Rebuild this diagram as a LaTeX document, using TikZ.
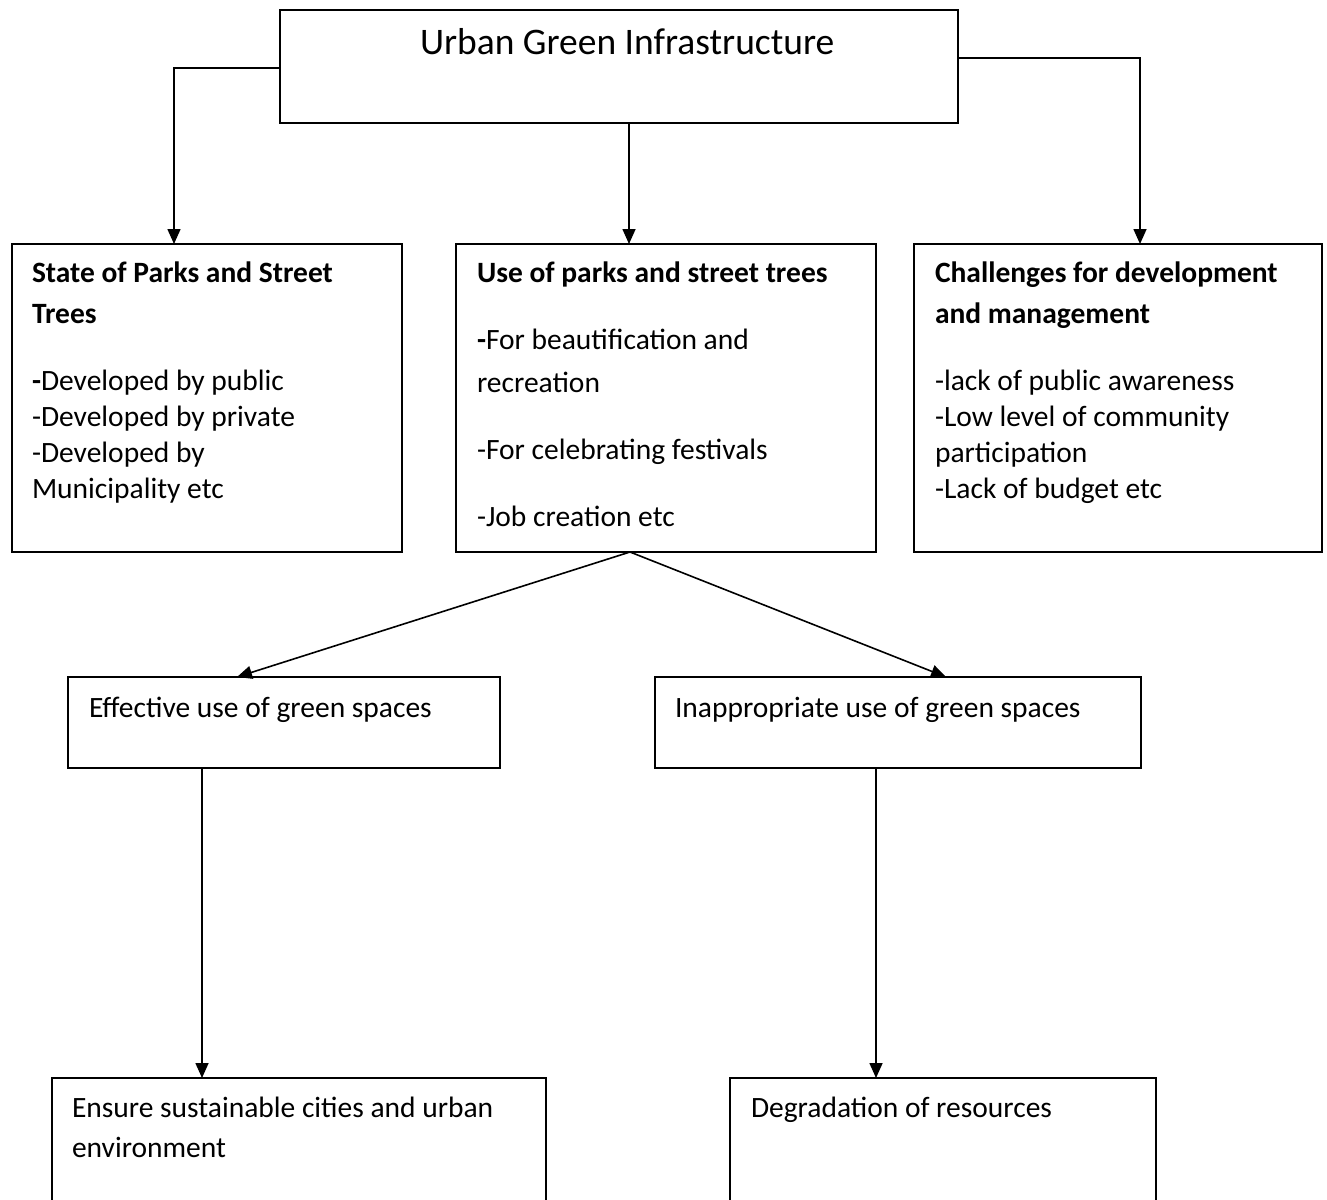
\documentclass[tikz,border=0pt]{standalone}
\usepackage{fontspec}
\setmainfont{Carlito}
\usetikzlibrary{arrows.meta,positioning,calc}
\newcommand{\lines}[1]{\begin{tabular}[t]{@{}l@{}}#1\end{tabular}}
\tikzset{
  box/.style={draw=black, line width=2pt, rectangle, inner sep=0pt, outer sep=0pt, anchor=north west},
  txt/.style={anchor=base west, inner sep=0pt, outer sep=0pt, font=\fontsize{29.5}{36}\selectfont},
  conn/.style={draw=black, line width=1.6pt, -{Triangle[width=13pt,length=15pt]}},
}
\begin{document}
\begin{tikzpicture}[x=1pt,y=-1pt]
\clip (0,0) rectangle (1327,1199);
\fill[white] (0,0) rectangle (1327,1199);
% boxes
\node[box, minimum width=678pt, minimum height=113pt] (top) at (280,10) {};
\node[box, minimum width=390pt, minimum height=308pt] (b1) at (12,244) {};
\node[box, minimum width=420pt, minimum height=308pt] (b2) at (456,244) {};
\node[box, minimum width=408pt, minimum height=308pt] (b3) at (914,244) {};
\node[box, minimum width=432pt, minimum height=91pt] (b4) at (68,677) {};
\node[box, minimum width=486pt, minimum height=91pt] (b5) at (655,677) {};
\node[box, minimum width=494pt, minimum height=160pt] (b6) at (52,1078) {};
\node[box, minimum width=426pt, minimum height=160pt] (b7) at (730,1078) {};
% texts
\node[txt, font=\fontsize{37.5}{44}\selectfont] (ttop) at (420,55) {Urban Green Infrastructure};
\node[txt] (t1) at (32,282) {\lines{\textbf{State of Parks and Street}\\[5pt]\textbf{Trees}\\[31pt]\textbf{-}Developed by public\\-Developed by private\\-Developed by\\Municipality etc}};
\node[txt] (t2) at (477,282) {\lines{\textbf{Use of parks and street trees}\\[31pt]\textbf{-}For beautification and\\[7pt]recreation\\[31pt]-For celebrating festivals\\[31pt]-Job creation etc}};
\node[txt] (t3) at (935,282) {\lines{\textbf{Challenges for development}\\[5pt]\textbf{and management}\\[31pt]-lack of public awareness\\-Low level of community\\participation\\-Lack of budget etc}};
\node[txt] (t4) at (89,717) {Effective use of green spaces};
\node[txt] (t5) at (675,717) {Inappropriate use of green spaces};
\node[txt] (t6) at (72,1117) {\lines{Ensure sustainable cities and urban\\[4pt]environment}};
\node[txt] (t7) at (751,1117) {Degradation of resources};
% connectors
\coordinate (lA) at (top.west |- 0,68);
\coordinate (rA) at (top.east |- 0,58);
\draw[conn] (lA) -| (b1.north -| 174,0);
\draw[conn] (top.south -| 629,0) -- (b2.north -| 629,0);
\draw[conn] (rA) -| (b3.north -| 1140,0);
\coordinate (b2s) at (630,552);
\draw[conn] (b2s) -- (b4.north -| 237,0);
\draw[conn] (b2s) -- (b5.north -| 946,0);
\draw[conn] (b4.south -| 202,0) -- (b6.north -| 202,0);
\draw[conn] (b5.south -| 876,0) -- (b7.north -| 876,0);
\end{tikzpicture}
\end{document}
